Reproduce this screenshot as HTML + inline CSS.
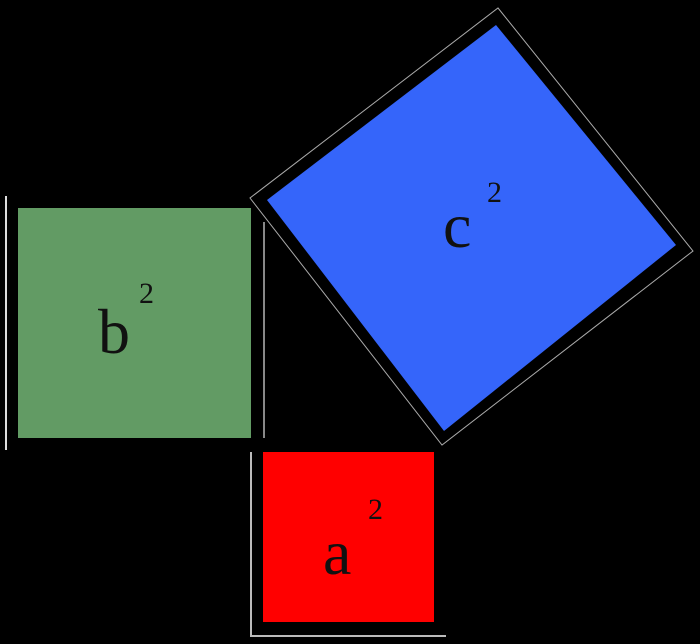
<!DOCTYPE html>
<html><head><style>
html,body{margin:0;padding:0;background:#000;}
svg{display:block;}
text{font-family:"Liberation Serif",serif;fill:#111;}
</style></head><body>
<svg width="700" height="644" viewBox="0 0 700 644">
<rect width="700" height="644" fill="#000"/>
<line x1="6" y1="196" x2="6" y2="450" stroke="#ddd" stroke-width="2"/>
<rect x="18" y="208" width="233" height="230" fill="#629b64"/>
<line x1="264" y1="222" x2="264" y2="438" stroke="#888" stroke-width="2"/>
<path d="M251 452 V636 H446" fill="none" stroke="#bbb" stroke-width="2"/>
<rect x="263" y="452" width="171" height="170" fill="#ff0000"/>
<polygon points="498,8 693,251 442,445 250,198" fill="#000" stroke="#aaa" stroke-width="1"/>
<polygon points="496,25 676,245 444,431 267,200" fill="#3565fa"/>
<text x="98" y="353" font-size="64">b</text>
<text x="139" y="303" font-size="30">2</text>
<text x="443" y="247" font-size="64">c</text>
<text x="487" y="202" font-size="30">2</text>
<text x="323" y="574" font-size="64">a</text>
<text x="368" y="519" font-size="30">2</text>
</svg>
</body></html>
